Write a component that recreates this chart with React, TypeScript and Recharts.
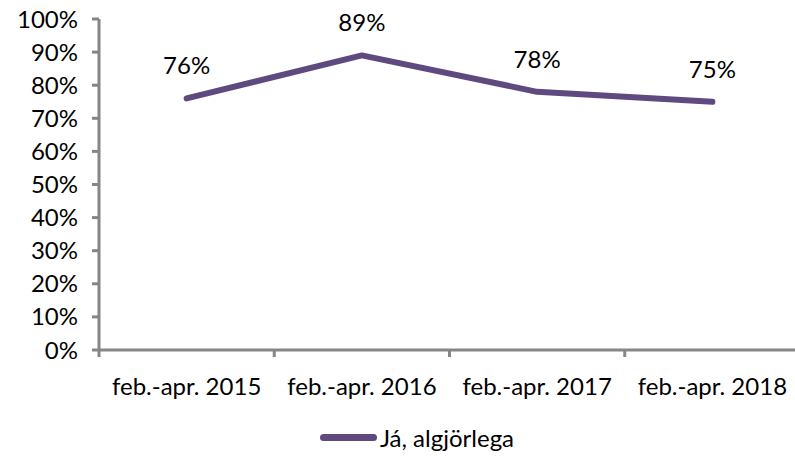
import React from 'react'
import { LineChart, Line, XAxis, YAxis, Legend, LabelList } from 'recharts'

const periods = ['feb.-apr. 2015', 'feb.-apr. 2016', 'feb.-apr. 2017', 'feb.-apr. 2018']
const agreeValues = [76, 89, 78, 75]
const yTicks = [0, 10, 20, 30, 40, 50, 60, 70, 80, 90, 100]
const seriesName = 'Já, algjörlega'

const axisColor = '#868686'
const lineColor = '#5E4A7E'
const font = 'Lato, "Open Sans", sans-serif'
const fontSize = 24

// each period sits in the middle of its band, tick marks sit on the band edges
const data = periods.map((period, i) => ({
    period,
    pos: i + 0.5,
    value: agreeValues[i],
}))

const xTicks: number[] = []
for (let i = 0; i <= periods.length * 2; i++) xTicks.push(i / 2)

const XTick = (props: any) => {
    const { x, y, payload } = props
    const v = payload.value
    if (Number.isInteger(v)) {
        return <line x1={x} x2={x} y1={y - 8} y2={y - 1} stroke={axisColor} strokeWidth={3} />
    }
    return (
        <text x={x} y={y + 37} textAnchor='middle' fill='#000' fontSize={fontSize} fontFamily={font}>
            {periods[Math.floor(v)]}
        </text>
    )
}

const LegendContent = (props: any) => {
    const item = props.payload?.[0]
    if (!item) return null
    return (
        <div style={{ display: 'flex', justifyContent: 'center', alignItems: 'center', height: 30, paddingLeft: 34 }}>
            <span style={{ display: 'inline-block', width: 57, height: 7, borderRadius: 4, background: item.color }} />
            <span style={{ fontFamily: font, fontSize, color: '#000', marginLeft: 3 }}>{item.value}</span>
        </div>
    )
}

export default function App() {
    return (
        <div style={{ position: 'absolute', left: 0, top: 0 }}>
            <LineChart
                width={795}
                height={456}
                data={data}
                margin={{ top: 19, right: -5, left: 0, bottom: 4 }}
            >
                <XAxis
                    dataKey='pos'
                    type='number'
                    domain={[0, periods.length]}
                    ticks={xTicks}
                    interval={0}
                    tick={<XTick />}
                    tickLine={false}
                    axisLine={{ stroke: axisColor, strokeWidth: 3 }}
                    height={72}
                />
                <YAxis
                    domain={[0, 100]}
                    ticks={yTicks}
                    interval={0}
                    width={99}
                    tickFormatter={(t) => t + '%'}
                    tick={{ fill: '#000', fontSize, fontFamily: font }}
                    tickSize={7}
                    tickMargin={14}
                    tickLine={{ stroke: axisColor, strokeWidth: 3 }}
                    axisLine={{ stroke: axisColor, strokeWidth: 3 }}
                />
                <Legend verticalAlign='bottom' height={30} content={<LegendContent />} />
                <Line
                    type='linear'
                    dataKey='value'
                    name={seriesName}
                    stroke={lineColor}
                    strokeWidth={6}
                    strokeLinecap='round'
                    strokeLinejoin='round'
                    dot={false}
                    isAnimationActive={false}
                >
                    <LabelList
                        dataKey='value'
                        position='top'
                        offset={24}
                        formatter={(v: any) => v + '%'}
                        fill='#000'
                        fontSize={fontSize}
                        fontFamily={font}
                    />
                </Line>
            </LineChart>
        </div>
    )
}
